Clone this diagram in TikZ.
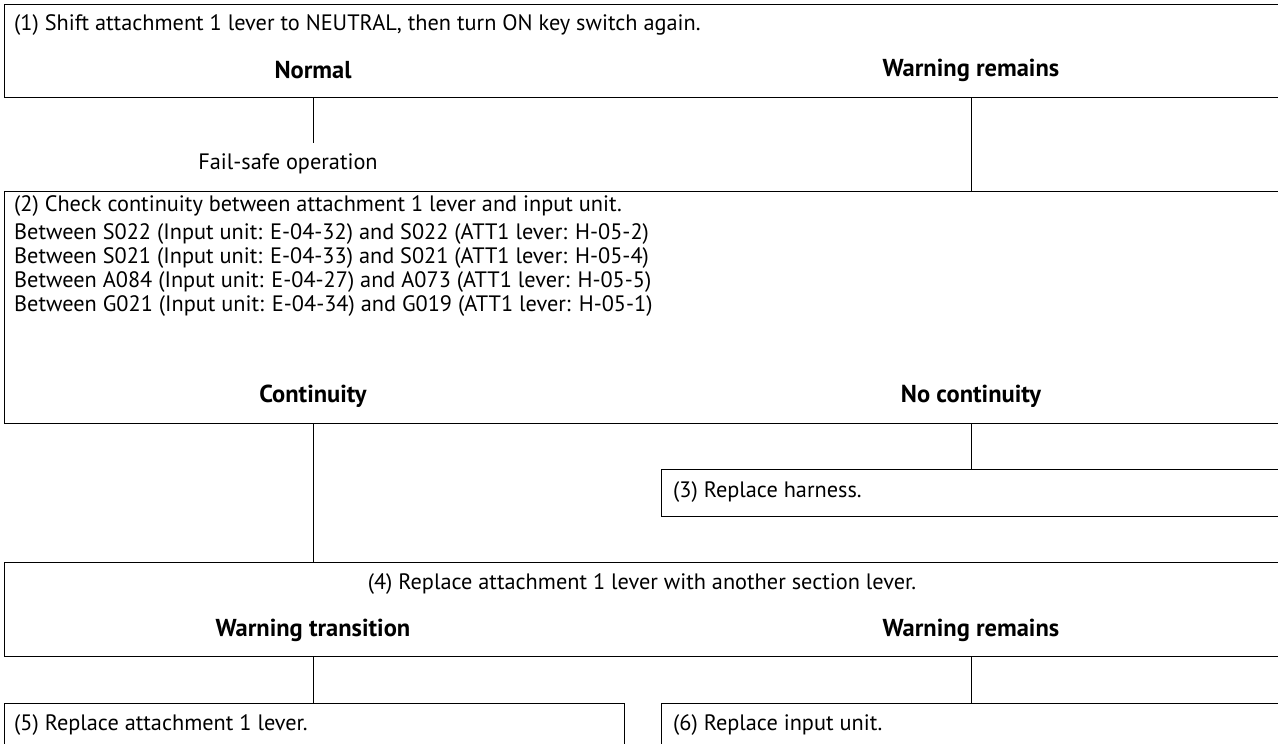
\documentclass[tikz,border=0pt]{standalone}
\usepackage{fontspec}
\setmainfont{PT Sans}
\usetikzlibrary{calc}

\begin{document}
\begin{tikzpicture}[x=1pt,y=-1pt,
        box/.style={draw,line width=1.3pt,anchor=north west,inner sep=0pt},
        txt/.style={anchor=west,inner sep=0pt,font=\fontsize{22.3}{23.8}\selectfont},
        plain/.style={inner sep=0pt,font=\fontsize{22.3}{23.8}\selectfont},
        lbl/.style={inner sep=0pt,font=\fontsize{24.5}{26}\selectfont\bfseries},
        link/.style={line width=1pt}]
                \useasboundingbox (0,0) rectangle (1278,744);
                \clip (0,0) rectangle (1278,744);

                \node[box,minimum width=1277pt,minimum height=93pt] (B1) at (4,4) {};
                \node[txt] (T1) at (14,25) {(1) Shift attachment 1 lever to NEUTRAL, then turn ON key switch again.};
                \node[lbl] (N1) at (313,70) {Normal};
                \node[lbl] (W1) at (971,70) {Warning remains};

                \node[plain] (F) at (288,164) {Fail-safe operation};
                \coordinate (F0) at (313,143);

                \node[box,minimum width=1277pt,minimum height=232pt] (B2) at (4,190.7) {};
                \node[txt] (T2) at (14,206) {(2) Check continuity between attachment 1 lever and input unit.};
                \node[txt,align=left] (T2a) at (14,270) {Between S022 (Input unit: E-04-32) and S022 (ATT1 lever: H-05-2)\\
                    Between S021 (Input unit: E-04-33) and S021 (ATT1 lever: H-05-4)\\
                    Between A084 (Input unit: E-04-27) and A073 (ATT1 lever: H-05-5)\\
                    Between G021 (Input unit: E-04-34) and G019 (ATT1 lever: H-05-1)};
                \node[lbl] (C2) at (313,396) {Continuity};
                \node[lbl] (NC2) at (971,396) {No continuity};

                \node[box,minimum width=620pt,minimum height=47pt] (B3) at (661,469) {};
                \node[txt] (T3) at (673,492.5) {(3) Replace harness.};

                \node[box,minimum width=1277pt,minimum height=94pt] (B4) at (4,562) {};
                \node[plain] (T4) at (642,584) {(4) Replace attachment 1 lever with another section lever.};
                \node[lbl] (W4a) at (313,630) {Warning transition};
                \node[lbl] (W4b) at (971,630) {Warning remains};

                \node[box,minimum width=620pt,minimum height=47pt] (B5) at (4,703) {};
                \node[txt] (T5) at (14,725) {(5) Replace attachment 1 lever.};
                \node[box,minimum width=620pt,minimum height=47pt] (B6) at (661,703) {};
                \node[txt] (T6) at (673,725) {(6) Replace input unit.};

                \draw[link] (N1 |- B1.south) -- (F0);
                \draw[link] (W1 |- B1.south) -- (W1 |- B2.north);
                \draw[link] (C2 |- B2.south) -- (C2 |- B4.north);
                \draw[link] (NC2 |- B2.south) -- (NC2 |- B3.north);
                \draw[link] (W4a |- B4.south) -- (W4a |- B5.north);
                \draw[link] (W4b |- B4.south) -- (W4b |- B6.north);
\end{tikzpicture}
\end{document}
